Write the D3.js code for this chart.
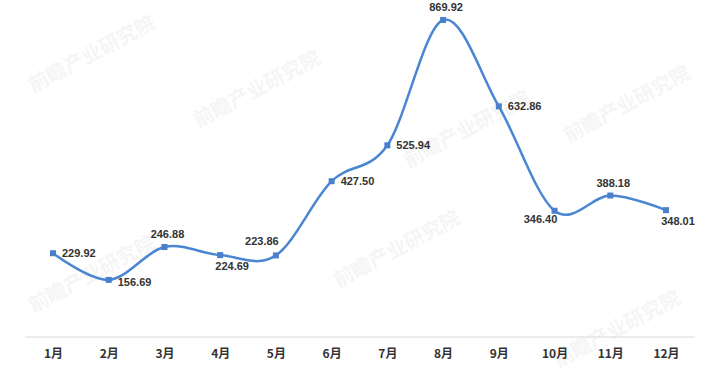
<!DOCTYPE html>
<html>
<head>
<meta charset="utf-8">
<script src="https://cdn.jsdelivr.net/npm/d3@7"></script>
<style>
  body { margin: 0; background: #fff; }
  svg { display: block; }
</style>
</head>
<body>
<svg width="712" height="379"></svg>
<script>
// monthly values
const months = ["1月", "2月", "3月", "4月", "5月", "6月", "7月", "8月", "9月", "10月", "11月", "12月"];
const values = [229.92, 156.69, 246.88, 224.69, 223.86, 427.50, 525.94, 869.92, 632.86, 346.40, 388.18, 348.01];
// where each value label sits relative to its point
const labelPos = ["right", "rightLow", "above", "below", "aboveLeft", "right", "right", "above", "right", "belowLeft", "above", "below"];

const svg = d3.select("svg");
const width = +svg.attr("width");
const height = +svg.attr("height");

const x = d3.scalePoint()
  .domain(months)
  .range([53, 666]);

const y = d3.scaleLinear()
  .domain([0, 900])
  .range([337, 9]);

// faint watermarks
const marks = [[95, 60], [260, 95], [470, 135], [630, 110], [95, 280], [400, 255], [620, 335]];
svg.append("g").selectAll("text")
  .data(marks)
  .enter().append("text")
    .attr("transform", d => "translate(" + d[0] + "," + d[1] + ") rotate(-28)")
    .attr("text-anchor", "middle")
    .style("font-family", "'Noto Sans CJK SC', sans-serif")
    .style("font-size", "20px")
    .style("font-weight", "bold")
    .style("fill", "#000")
    .style("opacity", 0.035)
    .text("前瞻产业研究院");

// baseline
svg.append("line")
  .attr("x1", 25).attr("x2", 695)
  .attr("y1", y(0)).attr("y2", y(0))
  .style("stroke", "#d9d9d9")
  .style("stroke-width", 1);

// x axis labels
const xAxis = svg.append("g")
  .attr("transform", "translate(0," + y(0) + ")")
  .call(d3.axisBottom(x).tickSize(0).tickPadding(12));
xAxis.select(".domain").remove();
xAxis.selectAll("text")
  .style("font-family", "'Noto Sans CJK SC', sans-serif")
  .style("font-size", "12px")
  .style("font-weight", "bold")
  .style("fill", "#333");

// smooth line
const line = d3.line()
  .x((d, i) => x(months[i]))
  .y(d => y(d))
  .curve(d3.curveCardinal.tension(0));

svg.append("path")
  .datum(values)
  .attr("d", line)
  .style("fill", "none")
  .style("stroke", "#4a86d2")
  .style("stroke-width", 2.5);

// square markers
svg.append("g").selectAll("rect")
  .data(values)
  .enter().append("rect")
    .attr("x", (d, i) => x(months[i]) - 3)
    .attr("y", d => y(d) - 3)
    .attr("width", 6)
    .attr("height", 6)
    .style("fill", "#4a7fcc");

// value labels
const offsets = {
  right:     {dx: 9,   dy: 4,   anchor: "start"},
  rightLow:  {dx: 9,   dy: 6,   anchor: "start"},
  above:     {dx: 3,   dy: -9,  anchor: "middle"},
  below:     {dx: 12,  dy: 15,  anchor: "middle"},
  aboveLeft: {dx: -14, dy: -10, anchor: "middle"},
  belowLeft: {dx: -14, dy: 12,  anchor: "middle"}
};

svg.append("g").selectAll("text")
  .data(values)
  .enter().append("text")
    .attr("x", (d, i) => x(months[i]) + offsets[labelPos[i]].dx)
    .attr("y", d => y(d))
    .attr("dy", (d, i) => offsets[labelPos[i]].dy)
    .attr("text-anchor", (d, i) => offsets[labelPos[i]].anchor)
    .style("font-family", "'Liberation Sans', Arial, sans-serif")
    .style("font-size", "11px")
    .style("font-weight", "bold")
    .style("fill", "#333")
    .text(d => d3.format(".2f")(d));
</script>
</body>
</html>
